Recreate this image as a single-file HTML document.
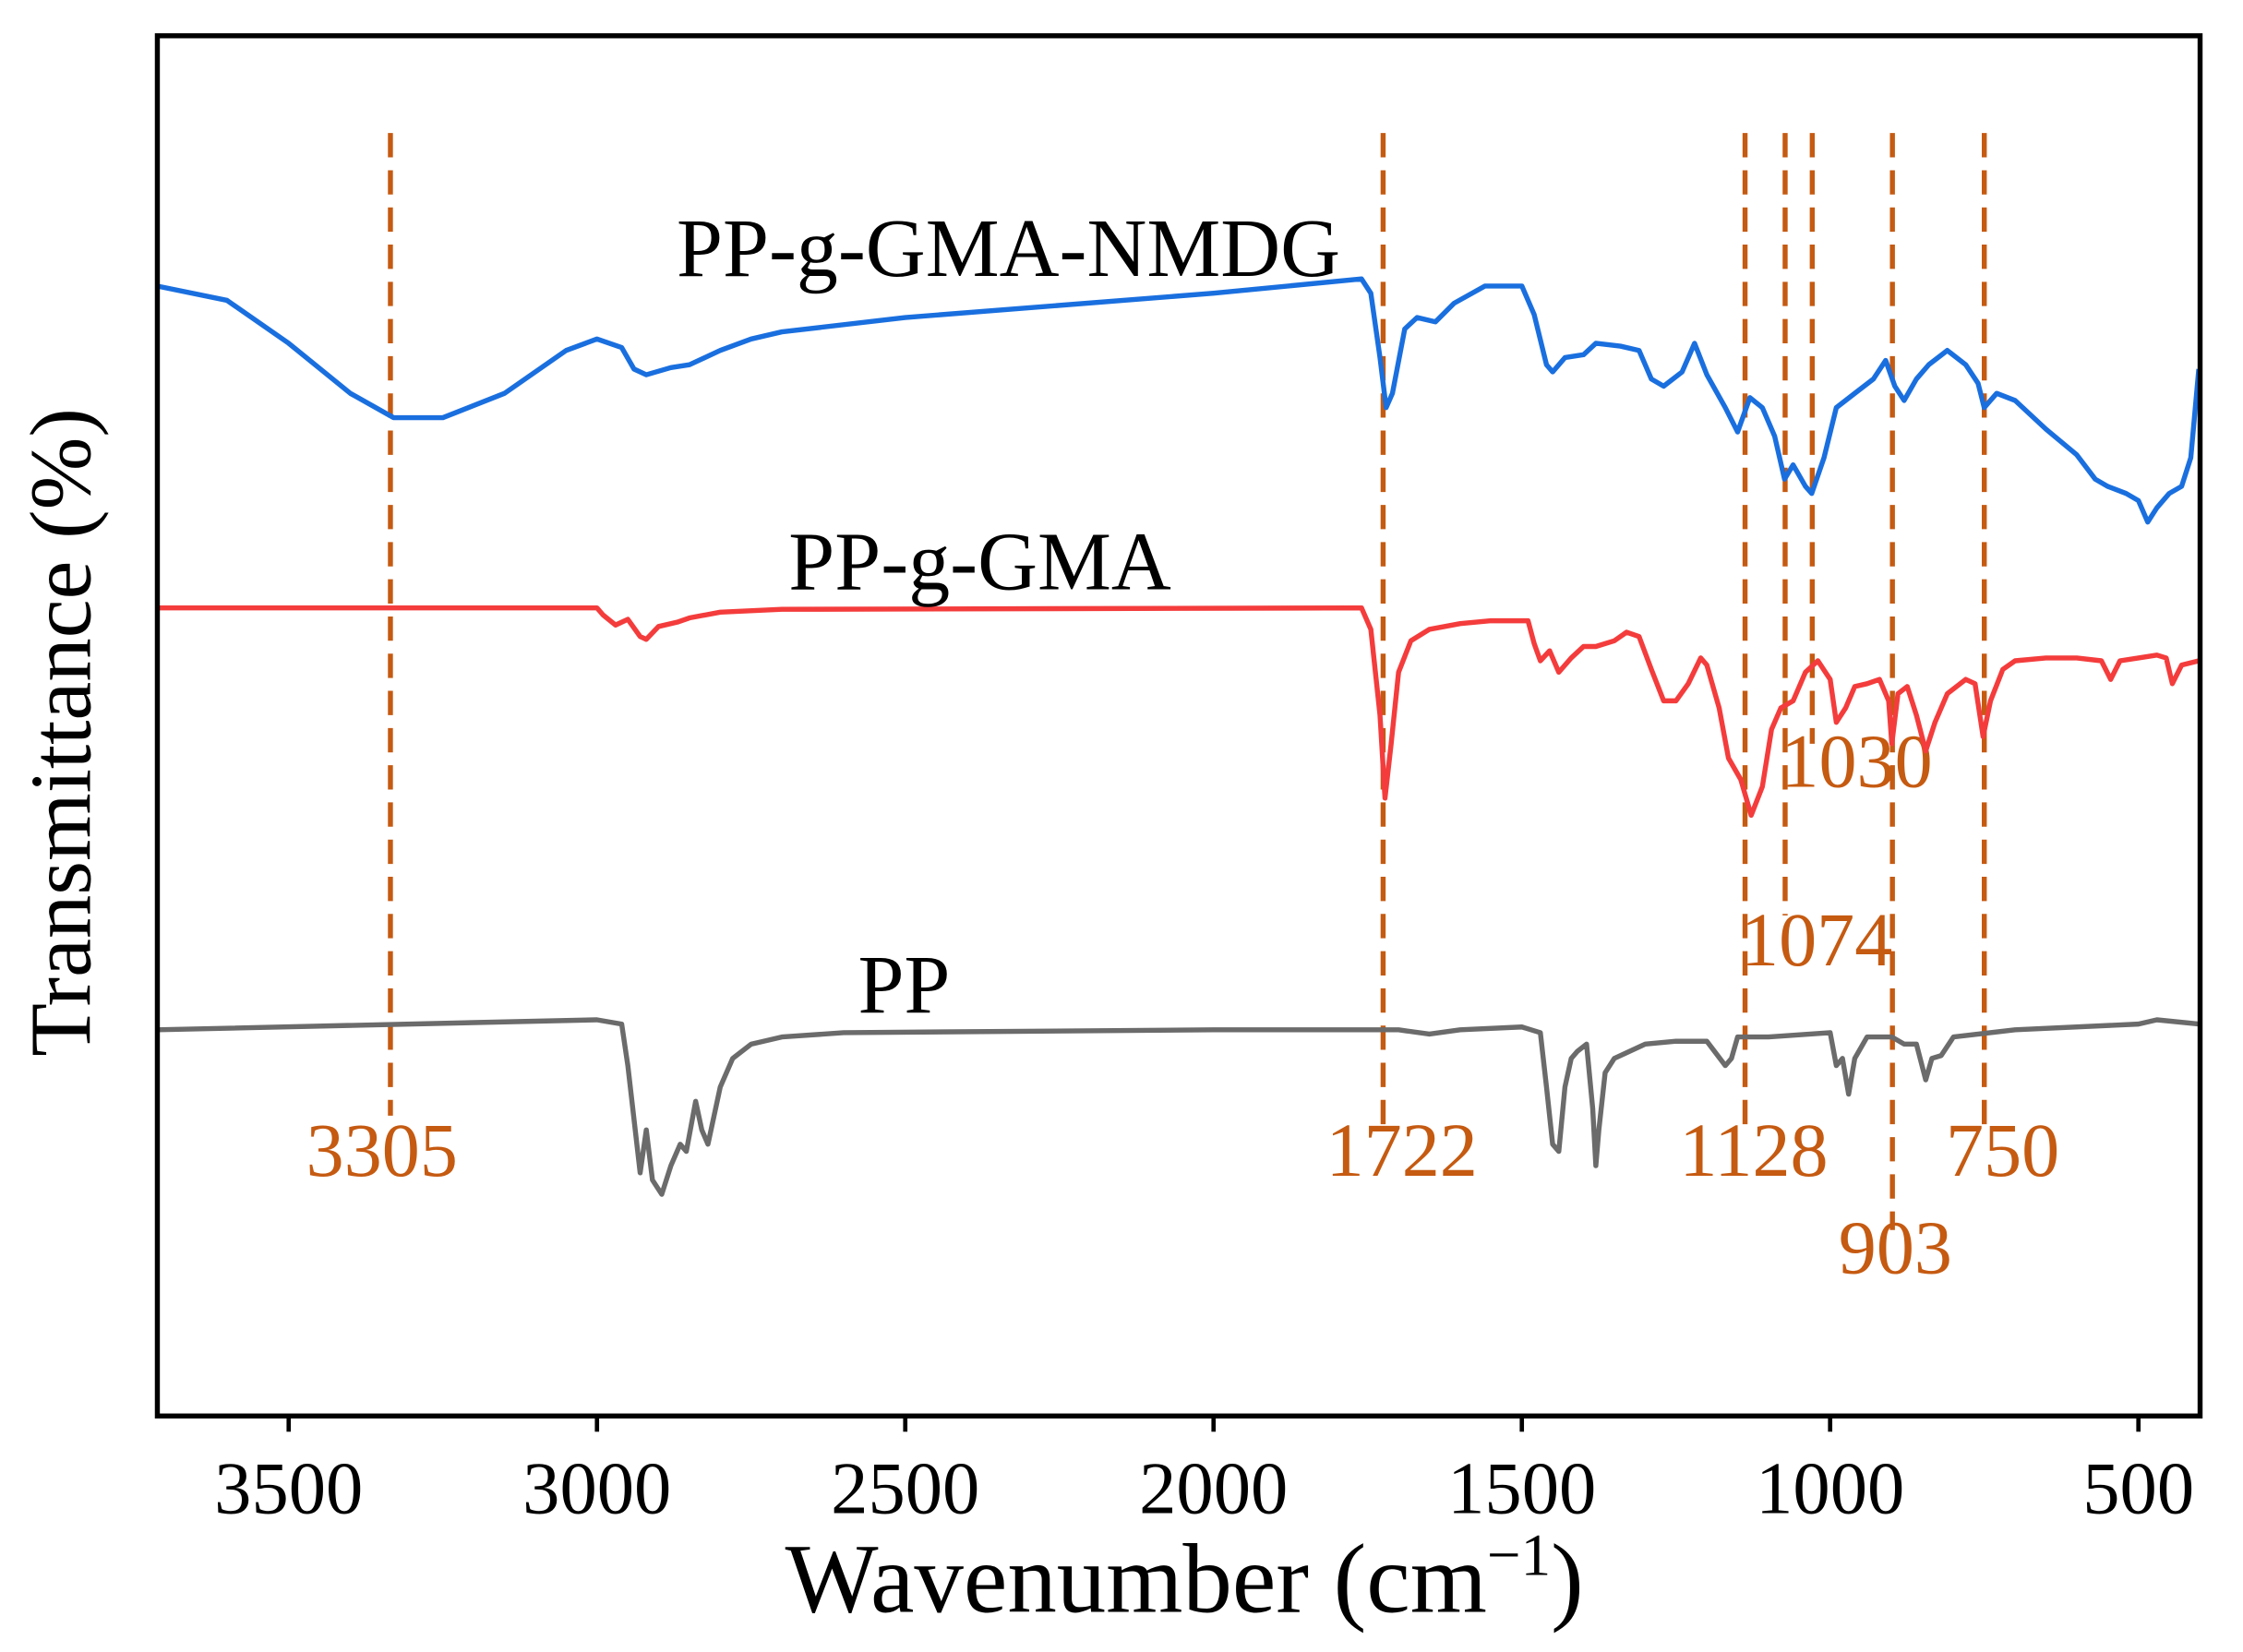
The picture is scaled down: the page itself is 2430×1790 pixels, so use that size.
<!DOCTYPE html>
<html><head><meta charset="utf-8"><style>
html,body{margin:0;padding:0;background:#fff;}
svg{display:block;}
text{font-family:"Liberation Serif",serif;}
</style></head><body>
<svg id="chart" width="2430" height="1790" viewBox="0 0 1568 1155" xmlns="http://www.w3.org/2000/svg">
<rect x="0" y="0" width="1568" height="1155" fill="#fff"/>
<g id="lines"></g>
<g id="series"></g>
<g id="axes"></g>
<rect x="110" y="25" width="1428" height="965" fill="none" stroke="#000" stroke-width="3.5"/>
<text x="828" y="1127" font-size="69" text-anchor="middle">Wavenumber (cm<tspan dy="-26" font-size="42">−1</tspan><tspan dy="26">)</tspan></text>
<text transform="translate(63,512) rotate(-90)" font-size="61" text-anchor="middle">Transmittance (%)</text>
<text x="705" y="193" font-size="58" text-anchor="middle">PP-g-GMA-NMDG</text>
<text x="685" y="412" font-size="58" text-anchor="middle">PP-g-GMA</text>
<text x="632" y="708" font-size="58" text-anchor="middle">PP</text>
</svg>
<script>
const xTicks=[3500,3000,2500,2000,1500,1000,500];
const blueWn=[3713,3600,3500,3400,3330,3250,3150,3050,3000,2960,2940,2920,2880,2850,2800,2750,2700,2500,2000,1760,1745,1730,1720,1710,1690,1670,1640,1610,1560,1500,1480,1460,1450,1430,1400,1380,1340,1310,1290,1270,1240,1220,1200,1170,1150,1130,1110,1090,1074,1060,1040,1030,1010,990,960,930,910,895,880,860,840,810,780,760,750,730,700,650,600,570,550,520,500,485,470,450,430,415,402];
const blueY=[200,210,240,275,292,292,275,245,237,243,258,262,257,255,245,237,232,222,205,195,205,250,285,275,230,222,225,212,200,200,220,255,260,250,248,240,242,245,265,270,260,240,262,285,302,278,285,305,335,325,340,345,320,285,275,265,252,270,280,265,255,245,255,268,285,275,280,300,318,335,340,345,350,365,355,345,340,320,258];
const redWn=[3713,3000,2990,2970,2950,2930,2920,2900,2870,2850,2800,2700,1760,1745,1730,1722,1712,1700,1680,1650,1600,1550,1490,1480,1470,1455,1440,1420,1400,1380,1350,1330,1310,1290,1270,1250,1230,1210,1200,1180,1165,1145,1128,1110,1095,1080,1060,1040,1020,1000,990,975,960,940,920,905,900,890,875,860,845,830,810,780,765,752,740,720,700,650,600,560,545,530,500,470,455,445,430,402];
const redY=[425,425,430,437,433,445,447,438,435,432,428,426,425,440,500,558,520,470,448,440,436,434,434,450,462,455,470,460,452,452,448,442,445,468,490,490,478,460,465,495,530,545,570,550,510,495,490,470,462,475,505,495,480,478,475,490,520,485,480,500,525,505,485,475,478,515,490,468,462,460,460,462,475,462,460,458,460,478,465,462];
const grayWn=[3713,3000,2960,2950,2930,2920,2910,2895,2880,2865,2855,2840,2830,2820,2800,2780,2750,2700,2600,2000,1700,1650,1600,1500,1470,1460,1450,1440,1430,1420,1410,1395,1385,1380,1375,1365,1350,1300,1250,1200,1170,1160,1150,1100,1000,990,980,970,960,940,900,880,860,845,835,820,800,700,500,470,400];
const grayY=[720,713,716,745,820,790,825,835,815,800,805,770,790,800,760,740,730,725,722,720,720,723,720,718,722,760,800,805,760,740,735,730,775,815,790,750,740,730,728,728,745,740,725,725,722,745,740,765,740,725,725,730,730,755,740,738,725,720,716,713,716];
const peakLabels=["3305","1722","1128","1074","1030","903","750"];
const peakPos=[3335,1725,1138,1073,1029,899,750];
const lineEnds=[780,790,790,640,520,860,790];
const labelX=[267,980,1226,1270,1298,1325,1400];
const labelY=[822,822,822,675,550,890,822];
const wnMin=400, wnMax=3713, L=110, R=1538;
function X(w){return L+(wnMax-w)/(wnMax-wnMin)*(R-L);}
const NS="http://www.w3.org/2000/svg";
function mk(t,a,p){const e=document.createElementNS(NS,t);for(const k in a)e.setAttribute(k,a[k]);p.appendChild(e);return e;}
const sg=document.getElementById('series');
[[blueWn,blueY,'#1a6fdf','series-pp-g-gma-nmdg'],[redWn,redY,'#f43c3c','series-pp-g-gma'],[grayWn,grayY,'#6b6b6b','series-pp']].forEach(s=>{
 const d=s[0].map((w,i)=>(i?'L':'M')+X(w).toFixed(1)+' '+s[1][i]).join(' ');
 const p=mk('path',{d:d,fill:'none',stroke:s[2],'stroke-width':3.5,'stroke-linejoin':'round'},sg);
 
 
});
const lg=document.getElementById('lines');
peakPos.forEach((w,i)=>{
 const l=mk('line',{x1:X(w),x2:X(w),y1:93,y2:lineEnds[i],stroke:'#c55a11','stroke-width':3.5,'stroke-dasharray':'17,9'},lg);
 
 
 const t=mk('text',{x:labelX[i],y:labelY[i],'font-size':53,'text-anchor':'middle',fill:'#c55a11'},lg);
 t.textContent=peakLabels[i];
 
 
});
const ag=document.getElementById('axes');
xTicks.forEach(v=>{
 const tk=mk('line',{x1:X(v),x2:X(v),y1:990,y2:1001,stroke:'#000','stroke-width':3},ag);
 
 
 const t=mk('text',{x:X(v),y:1058,'font-size':52,'text-anchor':'middle'},ag);
 t.textContent=v;
 
 
});
</script>
</body></html>
